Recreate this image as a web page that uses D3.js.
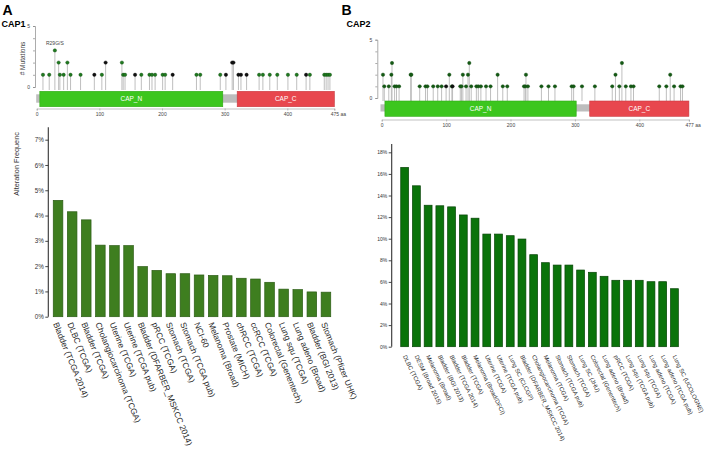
<!DOCTYPE html>
<html>
<head>
<meta charset="utf-8">
<script src="https://cdn.jsdelivr.net/npm/d3@7"></script>
<style>
  html,body{margin:0;padding:0;background:#fff;}
  svg{display:block;font-family:"Liberation Sans",Arial,sans-serif;}
</style>
</head>
<body>
<svg id="chart" width="707" height="460"></svg>
<script>
// ---------- DATA ----------
const catsA = ["Bladder (TCGA 2014)","DLBC (TCGA)","Bladder (TCGA)","Cholangiocarcinoma (TCGA)","Uterine (TCGA)","Uterine (TCGA pub)","Bladder (DFARBER_MSKCC 2014)","pRCC (TCGA)","Stomach (TCGA)","Stomach (TCGA pub)","NCI-60","Melanoma (Broad)","Prostate (MICH)","chRCC (TCGA)","ccRCC (TCGA)","Colorectal (Genentech)","Lung squ (TCGA)","Lung adeno (Broad)","Bladder (BGI 2013)","Stomach (Pfizer UHK)"];
const valsA = [4.6,4.15,3.83,2.83,2.81,2.81,1.98,1.83,1.7,1.7,1.65,1.63,1.62,1.52,1.49,1.36,1.09,1.07,0.98,0.97];
const ticksA = [0,1,2,3,4,5,6,7];

const catsB = ["DLBC (TCGA)","DESM (Broad 2015)","Melanoma (Broad)","Bladder (BGI 2013)","Bladder (TCGA 2014)","Bladder (TCGA)","Melanoma (Broad/DFCI)","Uterine (TCGA)","Uterine (TCGA pub)","Lung SC (CLCGP)","Bladder (DFARBER_MSKCC 2014)","Cholangiocarcinoma (TCGA)","Melanoma (TCGA)","Stomach (TCGA pub)","Stomach (TCGA)","Lung SC (JHU)","Colorectal (Genentech)","Lung adeno (Broad)","pRCC (TCGA)","Lung squ (TCGA pub)","Lung squ (TCGA)","Lung adeno (TCGA)","Lung adeno (TCGA pub)","Lung SC (UCOLOGNE)"];
const valsB = [16.6,14.9,13.1,13.05,12.95,12.2,11.9,10.43,10.43,10.28,9.97,8.52,7.78,7.56,7.56,7.1,6.89,6.52,6.15,6.15,6.15,6.02,6.02,5.37];
const ticksB = [0,2,4,6,8,10,12,14,16,18];

// CAP1 mutations (amino-acid position, count, kind: m = missense, t = truncating)
const cap1Pos  = [10,20,29,35,37,43,49,54,70,92,104,110,136,138,141,157,167,180,184,189,201,205,217,255,261,293,302,312,314,322,326,335,355,361,372,384,401,415,430,436,459,462,465,468];
const cap1Cnt  = [1,1,3,2,1,1,2,1,1,1,1,2,2,1,1,1,1,1,1,1,1,1,1,1,1,1,1,2,2,1,1,1,1,1,1,1,1,1,1,1,1,1,1,1];
const cap1Kind = ["m","m","m","m","m","m","m","m","m","t","m","t","m","m","m","t","m","m","m","m","m","m","t","m","m","m","t","t","t","t","t","t","m","m","m","m","m","m","t","m","m","m","m","m"];
const cap1DomName = ["CAP_N","CAP_C"], cap1DomStart = [5,320], cap1DomEnd = [297,475];
const cap1Len = 475;
const cap1Ticks = [0,100,200,300,400,475];

// CAP2 mutations
const cap2Pos  = [2,4,11,15,16,20,23,27,45,46,59,68,71,80,87,93,100,105,109,110,122,124,126,131,134,136,139,147,150,154,162,169,180,188,195,221,223,224,227,248,259,269,295,298,311,331,358,363,369,373,379,387,391,431,442,448,454,464,467];
const cap2Cnt  = [2,1,1,2,3,1,1,1,2,2,1,1,1,1,1,1,1,2,1,1,1,1,2,1,2,3,1,1,1,1,1,1,2,1,1,1,1,2,1,1,1,1,1,1,1,1,1,2,1,3,1,1,1,1,1,2,1,1,1];
const cap2Kind = ["m","m","m","m","m","m","m","m","m","m","m","m","m","m","m","m","t","m","m","t","m","m","m","m","m","m","m","m","m","m","m","m","m","m","m","m","m","m","m","m","m","m","m","m","m","m","m","m","m","m","m","m","m","m","m","m","m","m","m"];
const cap2DomName = ["CAP_N","CAP_C"], cap2DomStart = [5,323], cap2DomEnd = [302,477];
const cap2Len = 477;
const cap2Ticks = [0,100,200,300,400,477];

// ---------- DRAW ----------
const svg = d3.select("#chart");
const FONT = '"Liberation Sans",Arial,sans-serif';

// headers
svg.append("text").attr("x",2.5).attr("y",15).attr("font-size",14).attr("font-weight","bold").text("A");
svg.append("text").attr("x",1.5).attr("y",26.5).attr("font-size",9).attr("font-weight","bold").text("CAP1");
svg.append("text").attr("x",341.5).attr("y",15).attr("font-size",14).attr("font-weight","bold").text("B");
svg.append("text").attr("x",346.5).attr("y",26.5).attr("font-size",9).attr("font-weight","bold").text("CAP2");

function lollipop(cfg){
  const g = svg.append("g");
  const x = d3.scaleLinear().domain([0,cfg.len]).range(cfg.xr);
  const y = d3.scaleLinear().domain([0,5]).range(cfg.yr);
  const ya = g.append("g").attr("transform",`translate(${cfg.axisX},0)`)
    .call(d3.axisLeft(y).tickValues([0,1,2,3,4,5]).tickSize(2).tickFormat(d => (d===0||d===5)? d : ""));
  ya.select(".domain").attr("stroke","#888").attr("stroke-width",0.7);
  ya.selectAll(".tick line").attr("stroke","#888").attr("stroke-width",0.7);
  ya.selectAll(".tick text").attr("font-size",5).attr("fill","#444").attr("font-family",FONT);
  if(cfg.ylabel){
    g.append("text").attr("transform",`translate(${cfg.axisX-10},${(cfg.yr[0]+cfg.yr[1])/2+2}) rotate(-90)`)
      .attr("text-anchor","middle").attr("font-size",6.5).attr("fill","#444").text(cfg.ylabel);
  }
  const data = cfg.pos.map((p,i)=>({p, c:cfg.cnt[i], k:cfg.kind[i]}));
  g.selectAll("line.stem").data(data).enter().append("line")
    .attr("x1",d=>x(d.p)).attr("x2",d=>x(d.p))
    .attr("y1",cfg.stemBase).attr("y2",d=>y(d.c))
    .attr("stroke","#b8b8b8").attr("stroke-width",0.9);
  g.append("rect").attr("x",cfg.bbX0).attr("y",cfg.bbY[0]).attr("width",x(cfg.len)-cfg.bbX0)
    .attr("height",cfg.bbY[1]-cfg.bbY[0]).attr("fill","#bdbdbd");
  const doms = cfg.domName.map((n,i)=>({n, s:cfg.domStart[i], e:cfg.domEnd[i]}));
  g.selectAll("rect.dom").data(doms).enter().append("rect")
    .attr("x",d=>x(d.s)).attr("width",d=>x(d.e)-x(d.s))
    .attr("y",cfg.domY[0]).attr("height",cfg.domY[1]-cfg.domY[0])
    .attr("fill",(d,i)=> i===0 ? "#3cc61e" : "#e8474e")
    .attr("stroke",(d,i)=> i===0 ? "#2fa815" : "#c93a40").attr("stroke-width",0.6);
  g.selectAll("text.dom").data(doms).enter().append("text")
    .attr("x",d=>(x(d.s)+x(d.e))/2).attr("y",(cfg.domY[0]+cfg.domY[1])/2+2.3)
    .attr("text-anchor","middle").attr("font-size",6.5).attr("fill","#fff").text(d=>d.n);
  g.selectAll("circle.dot").data(data).enter().append("circle")
    .attr("cx",d=>x(d.p)).attr("cy",d=>y(d.c)).attr("r",1.7)
    .attr("fill",d=> d.k==="t" ? "#111" : cfg.dotColor)
    .attr("stroke",d=> d.k==="t" ? "#000" : "#0f4a0f").attr("stroke-width",0.4);
  const xa = g.append("g").attr("transform",`translate(0,${cfg.xAxisY})`)
    .call(d3.axisBottom(x).tickValues(cfg.ticks).tickSize(2).tickPadding(2)
      .tickFormat(d => d===cfg.len ? d+" aa" : d));
  xa.select(".domain").attr("stroke","#999").attr("stroke-width",0.6);
  xa.selectAll(".tick line").attr("stroke","#999").attr("stroke-width",0.6);
  xa.selectAll(".tick text").attr("font-size",5).attr("fill","#444").attr("font-family",FONT)
    .attr("text-anchor",d=> d===cfg.len ? "start" : "middle")
    .attr("dx",d=> d===cfg.len ? -4 : 0);
  if(cfg.note){
    const n = data[cfg.note.idx];
    g.append("text").attr("x",x(n.p)).attr("y",y(n.c)-5).attr("text-anchor","middle")
      .attr("font-size",5).attr("fill","#444").text(cfg.note.text);
  }
}

lollipop({len:cap1Len, xr:[36.7,334.3], yr:[87,26], axisX:35, ylabel:"# Mutations",
  pos:cap1Pos, cnt:cap1Cnt, kind:cap1Kind, stemBase:90, bbX0:36.2, bbY:[94.3,102.7], domY:[91.3,106.7],
  domName:cap1DomName, domStart:cap1DomStart, domEnd:cap1DomEnd, xAxisY:108.5, ticks:cap1Ticks,
  dotColor:"#1f7a1f", note:{idx:2, text:"R29G/S"}});

lollipop({len:cap2Len, xr:[381.7,688.9], yr:[98,39.7], axisX:377.3, ylabel:null,
  pos:cap2Pos, cnt:cap2Cnt, kind:cap2Kind, stemBase:101, bbX0:380.5, bbY:[104.3,111.5], domY:[101,116.3],
  domName:cap2DomName, domStart:cap2DomStart, domEnd:cap2DomEnd, xAxisY:119.5, ticks:cap2Ticks,
  dotColor:"#145a14", note:null});

function bars(cfg){
  const g = svg.append("g");
  const x = d3.scaleBand().domain(cfg.cats).range(cfg.xr).paddingInner(cfg.pad).paddingOuter(cfg.pad/2);
  const y = d3.scaleLinear().domain([0,cfg.ymax]).range(cfg.yr);
  const ya = g.append("g").attr("transform",`translate(${cfg.axisX},0)`)
    .call(d3.axisLeft(y).tickValues(cfg.ticks).tickSize(3).tickPadding(1.5).tickFormat(d=>d+"%"));
  ya.select(".domain").attr("stroke","#333").attr("stroke-width",1.1).attr("d",`M0,${cfg.yr[1]}V${cfg.yr[0]}`);
  ya.selectAll(".tick line").attr("stroke","#333").attr("stroke-width",0.9);
  ya.selectAll(".tick text").attr("font-size",cfg.tickFont).attr("fill","#333").attr("font-family",FONT);
  g.selectAll("rect.bar").data(cfg.vals).enter().append("rect")
    .attr("x",(d,i)=>x(cfg.cats[i])).attr("width",x.bandwidth())
    .attr("y",d=>y(d)).attr("height",d=>y(0)-y(d))
    .attr("fill",cfg.fill).attr("stroke",cfg.stroke).attr("stroke-width",0.7);
  g.selectAll("text.lab").data(cfg.cats).enter().append("text")
    .attr("transform",d=>`translate(${x(d)+x.bandwidth()/2+cfg.labDx},${y(0)+cfg.labDy}) rotate(${cfg.angle})`)
    .attr("font-size",cfg.labFont).attr("fill","#2a2a2a").text(d=>d);
  if(cfg.ylabel){
    g.append("text").attr("transform",`translate(${cfg.ylabX},${cfg.ylabY}) rotate(-90)`)
      .attr("text-anchor","middle").attr("font-size",7.3).attr("fill","#333").text(cfg.ylabel);
  }
}

bars({cats:catsA, vals:valsA, ticks:ticksA, xr:[51,333], pad:0.32, ymax:7.49, yr:[316.7,127.3],
  axisX:48.3, tickFont:6.3, fill:"#3e7e1f", stroke:"#2b5c14", labDx:-5, labDy:7, angle:68, labFont:8.4,
  ylabel:"Alteration Frequenc", ylabX:19, ylabY:164});

bars({cats:catsB, vals:valsB, ticks:ticksB, xr:[398.8,680.3], pad:0.33, ymax:18.77, yr:[346.7,144],
  axisX:391.7, tickFont:5, fill:"#0a730a", stroke:"#064406", labDx:-2, labDy:9.5, angle:64, labFont:6.0,
  ylabel:null});
</script>
</body>
</html>
